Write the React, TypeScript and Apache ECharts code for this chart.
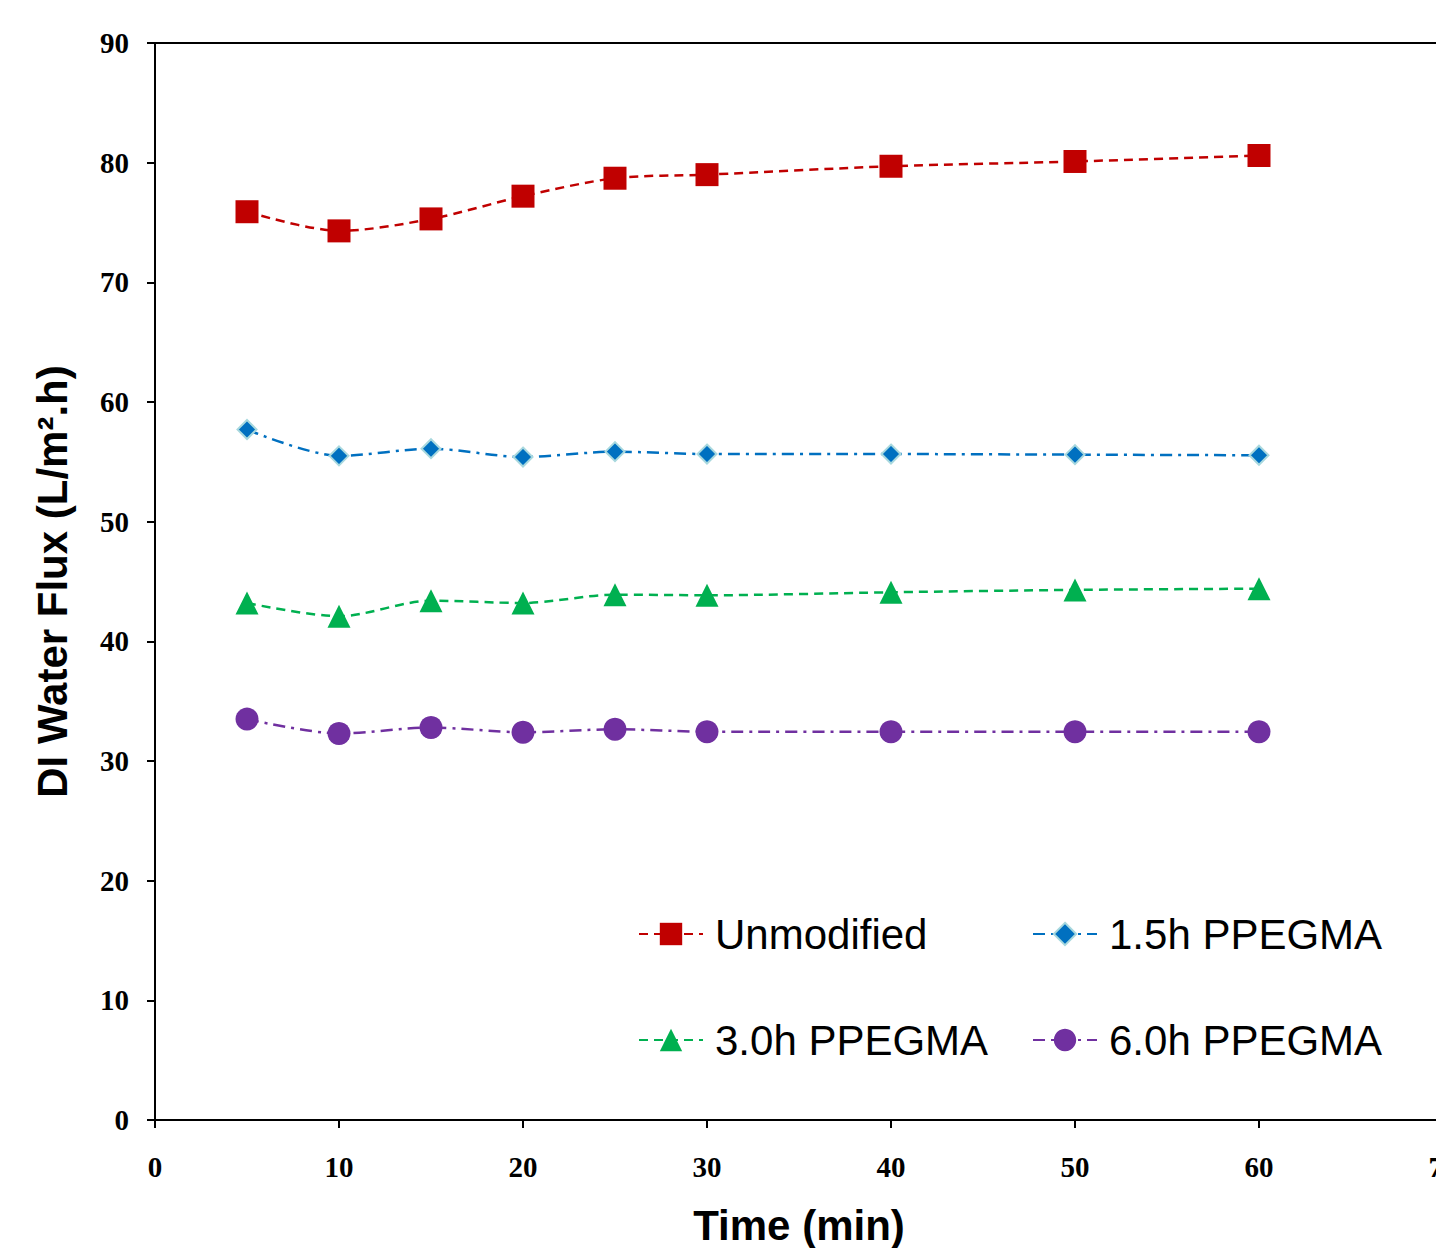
import React, { useEffect, useRef } from "react";
import * as echarts from "echarts";

const times = [5, 10, 15, 20, 25, 30, 40, 50, 60];
const unmodified = [75.9, 74.3, 75.3, 77.2, 78.7, 79.0, 79.7, 80.1, 80.6];
const ppegma15 = [57.7, 55.5, 56.1, 55.4, 55.85, 55.65, 55.65, 55.6, 55.55];
const ppegma30 = [43.2, 42.1, 43.4, 43.2, 43.9, 43.85, 44.1, 44.3, 44.4];
const ppegma60 = [33.5, 32.3, 32.8, 32.4, 32.65, 32.45, 32.45, 32.45, 32.45];
const seriesNames = ["Unmodified", "1.5h PPEGMA", "3.0h PPEGMA", "6.0h PPEGMA"];
const xTitle = "Time (min)";
const yTitle = "DI Water Flux (L/m\u00B2.h)";

const pair = (vals: number[]) => times.map((t, i) => [t, vals[i]]);

export default function App() {
  const ref = useRef<HTMLDivElement>(null);
  useEffect(() => {
    if (!ref.current) return;
    const chart = echarts.init(ref.current, undefined, { renderer: "svg" });
    const tickFont = {
      fontFamily: "Liberation Serif",
      fontWeight: "bold" as const,
      fontSize: 29,
      color: "#000",
    };
    const legendText = {
      fontFamily: "Liberation Sans",
      fontSize: 42,
      color: "#000",
      padding: [0, 0, 0, 7],
    };
    chart.setOption({
      animation: false,
      backgroundColor: "#fff",
      grid: {
        left: 155,
        top: 43,
        width: 1288,
        height: 1077,
        containLabel: false,
        outerBoundsMode: "none",
      },
      xAxis: [
        {
          type: "value",
          min: 0,
          max: 70,
          interval: 10,
          position: "bottom",
          name: xTitle,
          nameLocation: "middle",
          nameGap: 84,
          nameTextStyle: {
            fontFamily: "Liberation Sans",
            fontWeight: "bold",
            fontSize: 42,
            color: "#000",
          },
          axisLine: { show: true, lineStyle: { color: "#000", width: 2 } },
          axisTick: { show: true, inside: false, length: 8, lineStyle: { color: "#000", width: 2 } },
          axisLabel: { ...tickFont, margin: 32 },
          splitLine: { show: false },
        },
        {
          type: "value",
          min: 0,
          max: 70,
          position: "top",
          axisLine: { show: true, lineStyle: { color: "#000", width: 2 } },
          axisTick: { show: false },
          axisLabel: { show: false },
          splitLine: { show: false },
        },
      ],
      yAxis: {
        type: "value",
        min: 0,
        max: 90,
        interval: 10,
        name: yTitle,
        nameLocation: "middle",
        nameGap: 82,
        nameTextStyle: {
          fontFamily: "Liberation Sans",
          fontWeight: "bold",
          fontSize: 42,
          color: "#000",
        },
        axisLine: { show: true, lineStyle: { color: "#000", width: 2 } },
        axisTick: { show: true, inside: false, length: 8, lineStyle: { color: "#000", width: 2 } },
        axisLabel: { ...tickFont, margin: 26 },
        splitLine: { show: false },
      },
      legend: [
        {
          data: [seriesNames[0], seriesNames[2]],
          orient: "vertical",
          left: 638,
          top: 913,
          padding: 0,
          itemWidth: 64,
          itemHeight: 28,
          itemGap: 64,
          textStyle: legendText,
        },
        {
          data: [seriesNames[1], seriesNames[3]],
          orient: "vertical",
          left: 1032,
          top: 913,
          padding: 0,
          itemWidth: 64,
          itemHeight: 28,
          itemGap: 64,
          textStyle: legendText,
        },
      ],
      series: [
        {
          name: seriesNames[0],
          type: "line",
          data: pair(unmodified),
          smooth: 0.3,
          symbol: "rect",
          symbolSize: 23,
          itemStyle: { color: "#C00000" },
          lineStyle: { color: "#C00000", width: 2.5, type: [9, 6] },
          z: 4,
        },
        {
          name: seriesNames[1],
          type: "line",
          data: pair(ppegma15),
          smooth: 0.3,
          symbol: "diamond",
          symbolSize: 19,
          itemStyle: { color: "#0070C0", borderColor: "#A8D8DE", borderWidth: 2 },
          lineStyle: { color: "#0070C0", width: 2.5, type: [12, 6, 3, 6] },
          z: 3,
        },
        {
          name: seriesNames[2],
          type: "line",
          data: pair(ppegma30),
          smooth: 0.3,
          symbol: "triangle",
          symbolSize: 23,
          itemStyle: { color: "#00B050" },
          lineStyle: { color: "#00B050", width: 2.5, type: [9, 6] },
          z: 3,
        },
        {
          name: seriesNames[3],
          type: "line",
          data: pair(ppegma60),
          smooth: 0.3,
          symbol: "circle",
          symbolSize: 23,
          itemStyle: { color: "#7030A0" },
          lineStyle: { color: "#7030A0", width: 2.5, type: [12, 6, 3, 6] },
          z: 3,
        },
      ],
    });
    return () => chart.dispose();
  }, []);
  return (
    <div
      ref={ref}
      style={{ position: "absolute", left: 0, top: 0, width: 1436, height: 1248 }}
    />
  );
}
